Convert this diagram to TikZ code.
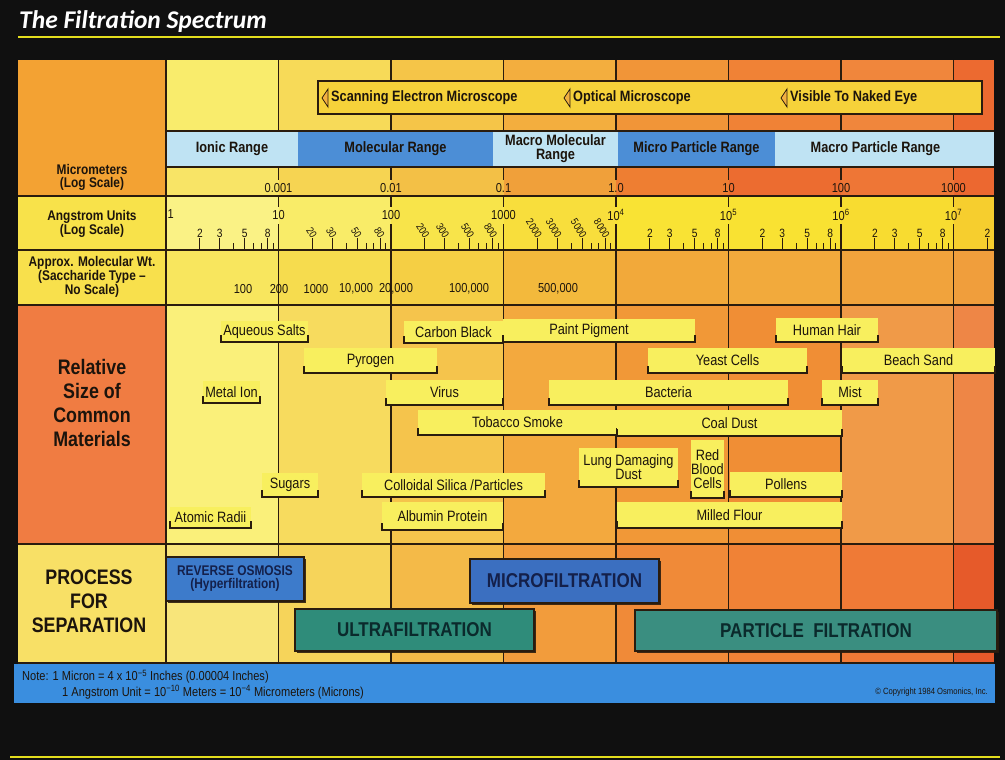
\documentclass[tikz,border=0pt]{standalone}
\usepackage{fontspec}
\setmainfont[FakeStretch=0.85]{Liberation Sans}
\newfontfamily\titlefont{Carlito}
\usetikzlibrary{shadows}

% general colours
\definecolor{chartblack}{HTML}{101010}
\definecolor{edge}{HTML}{2A1C0E}
\definecolor{ink}{HTML}{1C140C}
\definecolor{titlerule}{HTML}{E4DE1E}
\definecolor{boxyellow}{HTML}{F8EF5E}
\definecolor{barfill}{HTML}{F6D23A}
\definecolor{glyphfill}{HTML}{F2B040}
\definecolor{paleband}{HTML}{BFE3F3}
\definecolor{deepband}{HTML}{4C8ED6}
\definecolor{roband}{HTML}{3D7BCB}
\definecolor{mfband}{HTML}{3B6FC0}
\definecolor{ufband}{HTML}{2F8C7A}
\definecolor{pfband}{HTML}{3A8E80}
\definecolor{noteband}{HTML}{3A8EDF}
\definecolor{navytext}{HTML}{14204A}
\definecolor{tealtext}{HTML}{0B2A2C}
% label column
\definecolor{labA}{HTML}{F3A233}
\definecolor{labB}{HTML}{F8E24A}
\definecolor{labC}{HTML}{F8E04C}
\definecolor{labD}{HTML}{F07C42}
\definecolor{labE}{HTML}{F8E066}
% columns, one row at a time
\definecolor{top1}{HTML}{F9EC6C}\definecolor{top2}{HTML}{F7DA58}\definecolor{top3}{HTML}{F5C548}\definecolor{top4}{HTML}{F3AE3E}
\definecolor{top5}{HTML}{F19538}\definecolor{top6}{HTML}{F08236}\definecolor{top7}{HTML}{F0863C}\definecolor{top8}{HTML}{EC6A30}
\definecolor{um1}{HTML}{F8E466}\definecolor{um2}{HTML}{F6D452}\definecolor{um3}{HTML}{F3C046}\definecolor{um4}{HTML}{F0A03A}
\definecolor{um5}{HTML}{EE7E32}\definecolor{um6}{HTML}{EC6C30}\definecolor{um7}{HTML}{EE7636}\definecolor{um8}{HTML}{EC6830}
\definecolor{ang1}{HTML}{FAF285}\definecolor{ang2}{HTML}{F9EC68}\definecolor{ang3}{HTML}{F8E44A}\definecolor{ang4}{HTML}{F8DE3C}
\definecolor{ang5}{HTML}{F9E334}\definecolor{ang6}{HTML}{F9E232}\definecolor{ang7}{HTML}{F8DC30}\definecolor{ang8}{HTML}{F6CE2E}
\definecolor{mw1}{HTML}{F8E65E}\definecolor{mw2}{HTML}{F6DC4E}\definecolor{mw3}{HTML}{F5CF44}\definecolor{mw4}{HTML}{F3B93C}
\definecolor{mw5}{HTML}{F2A93A}\definecolor{mw6}{HTML}{F2AA3C}\definecolor{mw7}{HTML}{F1A33C}\definecolor{mw8}{HTML}{F09E3C}
\definecolor{mat1}{HTML}{FAF07A}\definecolor{mat2}{HTML}{F7DB5E}\definecolor{mat3}{HTML}{F5C44C}\definecolor{mat4}{HTML}{F3A93E}
\definecolor{mat5}{HTML}{F19837}\definecolor{mat6}{HTML}{F08E35}\definecolor{mat7}{HTML}{F09A48}\definecolor{mat8}{HTML}{EE8646}
\definecolor{sep1}{HTML}{F8E57A}\definecolor{sep2}{HTML}{F6D45A}\definecolor{sep3}{HTML}{F4BA48}\definecolor{sep4}{HTML}{F29C3C}
\definecolor{sep5}{HTML}{F08A38}\definecolor{sep6}{HTML}{F08236}\definecolor{sep7}{HTML}{EF7A36}\definecolor{sep8}{HTML}{E65A2A}

\tikzset{
  titletext/.style={inner sep=0pt, text=white, font=\titlefont\fontsize{25.5}{25}\selectfont\bfseries\itshape},
  titleline/.style={draw=titlerule, line width=2.5pt},
  gridline/.style={draw=edge, line width=1.4pt},
  decline/.style={draw=edge, line width=1.2pt},
  tickline/.style={draw=edge, line width=0.9pt},
  rangeband/.style={text=ink, font=\fontsize{15}{14}\selectfont\bfseries, align=center},
  scopebar/.style={fill=barfill, draw=edge, line width=1.4pt},
  scopetext/.style={inner sep=0pt, text=ink, font=\fontsize{15}{15}\selectfont\bfseries},
  scopeglyph/.style={draw=edge, fill=glyphfill, line width=0.8pt},
  rowhead/.style={inner sep=0pt, text=ink, align=center, font=\fontsize{14}{13}\selectfont\bfseries},
  bighead/.style={inner sep=0pt, text=ink, align=center, font=\fontsize{21}{24}\selectfont\bfseries},
  scalelbl/.style={inner sep=0.5pt, text=ink, font=\fontsize{12}{12}\selectfont},
  matbox/.style={fill=boxyellow, text=ink, align=center, font=\fontsize{15}{14}\selectfont},
  matline/.style={draw=edge, line width=1.8pt},
  procbox/.style={draw=edge, line width=1.5pt, align=center,
    drop shadow={shadow xshift=2pt, shadow yshift=-2pt, fill=edge, opacity=0.9}},
  notetext/.style={inner sep=0pt, text=ink, font=\fontsize{13}{13}\selectfont},
}

% a node that fills the box x1..x2, y1..y2
\newcommand{\spannode}[7][]{%
  \pgfmathsetmacro{\spx}{(#3+#4)/2}\pgfmathsetmacro{\spy}{(#5+#6)/2}%
  \pgfmathsetmacro{\spw}{#4-#3}\pgfmathsetmacro{\sph}{#6-#5}%
  \node[inner sep=0pt, minimum width=\spw pt, minimum height=\sph pt, #1] (#2) at (\spx,\spy) {#7};
}
% one yellow size box with its bracket underneath
\newcommand{\matl}[6]{%
  \spannode[matbox]{#1}{#2}{#3}{#4}{#5}{#6}
  \draw[matline] ([yshift=7pt]#1.south west) |- (#1.south) -| ([yshift=7pt]#1.south east);
}

\begin{document}
\begin{tikzpicture}[x=1pt, y=-1pt]
\useasboundingbox (0,0) rectangle (1005,760);
\fill[chartblack] (0,0) rectangle (1005,760);

% title
\node[titletext, anchor=west] (title) at (19,22) {The Filtration Spectrum};
\draw[titleline] (18,37) -- (1000,37);
\draw[titleline] (10,757) -- (1000,757);

% backgrounds
\fill[labA] (18,60) rectangle (166,196);
\fill[labB] (18,196) rectangle (166,250);
\fill[labC] (18,250) rectangle (166,305);
\fill[labD] (18,305) rectangle (166,544);
\fill[labE] (18,544) rectangle (166,663);
\foreach \r/\ya/\yb in {top/60/131,um/167/196,ang/196/250,mw/250/305,mat/305/544,sep/544/663}{
  \foreach \xa/\xb [count=\i] in {166/278.5,278.5/391,391/503.5,503.5/616,616/728.5,728.5/841,841/953.5,953.5/994}
    \fill[fill=\r\i] (\xa,\ya) rectangle (\xb,\yb);
}

% decade lines
\foreach \x in {278.5,391,503.5,616,728.5,841,953.5}{
  \draw[decline] (\x,60) -- (\x,131);
  \draw[decline] (\x,167) -- (\x,180);
  \draw[decline] (\x,196) -- (\x,207);
  \draw[decline] (\x,224) -- (\x,663);
}

% size ranges
\spannode[rangeband, fill=paleband]{ionic}{166}{298}{131}{167}{Ionic Range}
\spannode[rangeband, fill=deepband]{molecular}{298}{493}{131}{167}{Molecular Range}
\spannode[rangeband, fill=paleband]{macromol}{493}{618}{131}{167}{Macro Molecular\\Range}
\spannode[rangeband, fill=deepband]{microp}{618}{775}{131}{167}{Micro Particle Range}
\spannode[rangeband, fill=paleband]{macrop}{775}{994}{131}{167}{Macro Particle Range\hspace{18pt}}

% grid
\draw[gridline] (166,60) -- (166,663);
\draw[gridline] (166,131) -- (994,131);
\draw[gridline] (166,167) -- (994,167);
\foreach \y in {196,250,305,544,663}
  \draw[gridline] (18,\y) -- (994,\y);

% microscopes
\spannode[scopebar]{scopebar}{318}{982}{81}{114}{}
\node[scopetext, anchor=west] (sem) at (331,98) {Scanning Electron Microscope};
\node[scopetext, anchor=west] (optical) at (573,98) {Optical Microscope};
\node[scopetext, anchor=west] (naked) at (790,98) {Visible To Naked Eye};
\foreach \n in {sem,optical,naked}
  \draw[scopeglyph] ([xshift=-3pt]\n.west) ++(0,-9) -- ++(-6,9) -- ++(6,9) -- cycle;

% row headings
\node[rowhead] (umhead) at (92,177) {Micrometers\\(Log Scale)};
\node[rowhead] (anghead) at (92,224) {Angstrom Units\\(Log Scale)};
\node[rowhead] (mwhead) at (92,277) {Approx. Molecular Wt.\\(Saccharide Type –\\No Scale)};
\node[bighead] (mathead) at (92,403) {Relative\\Size of\\Common\\Materials};
\node[bighead] (sephead) at (89,601) {PROCESS\\FOR\\SEPARATION};

% micrometer scale
\foreach \x/\t [count=\i] in {278.5/0.001,391/0.01,503.5/0.1,616/1.0,728.5/10,841/100,953.5/1000}
  \node[scalelbl, font=\fontsize{13}{13}\selectfont] (um\i) at (\x,188) {\t};

% angstrom scale
\foreach \d in {0,...,6}{
  \foreach \m in {2,3,5,8}
    \draw[tickline] ({166+112.5*(\d+log10(\m))},250) -- ++(0,-12);
  \foreach \m in {4,6,7,9}
    \draw[tickline] ({166+112.5*(\d+log10(\m))},250) -- ++(0,-7);
}
\draw[tickline] ({166+112.5*(7+log10(2))},250) -- ++(0,-12);
\node[scalelbl, font=\fontsize{13}{13}\selectfont, anchor=west] (ang0) at (167,214) {1};
\foreach \x/\t [count=\i] in {278.5/10,391/100,503.5/1000,616/10\textsuperscript{4},728.5/10\textsuperscript{5},841/10\textsuperscript{6},953.5/10\textsuperscript{7}}
  \node[scalelbl, font=\fontsize{13}{13}\selectfont] (ang\i) at (\x,215) {\t};
\foreach \d in {0,4,5,6}{
  \foreach \m in {2,3,5,8}
    \node[scalelbl, anchor=south] (up\d\m) at ({166+112.5*(\d+log10(\m))},238) {\m};
}
\node[scalelbl, anchor=south] (up72) at ({166+112.5*(7+log10(2))},238) {2};
\foreach \d/\z in {1/0,2/00,3/000}{
  \foreach \m in {2,3,5,8}
    \node[scalelbl, inner sep=0pt, font=\fontsize{10.5}{10.5}\selectfont, rotate=-58, anchor=east] (rt\d\m) at ({166+112.5*(\d+log10(\m))+2},237) {\m\z};
}

% molecular weights
\foreach \x/\t [count=\i] in {243/100,279/200,316/1000,356/{10,000},396/{20,000},469/{100,000},558/{500,000}}
  \node[scalelbl, font=\fontsize{13}{13}\selectfont] (mw\i) at (\x,289) {\t};

% common materials
\matl{aqsalts}{221}{308}{321}{342}{Aqueous Salts}
\matl{carbon}{404}{503}{321}{343}{Carbon Black}
\matl{paint}{503}{695}{319}{342}{Paint Pigment\hspace{20pt}}
\matl{hair}{776}{878}{318}{342}{Human Hair}
\matl{pyrogen}{304}{437}{348}{373}{Pyrogen}
\matl{yeast}{648}{807}{348}{373}{Yeast Cells}
\matl{sand}{842}{995}{348}{373}{Beach Sand}
\matl{metal}{203}{260}{381}{403}{Metal Ion}
\matl{virus}{386}{503}{380}{405}{Virus}
\matl{bacteria}{549}{788}{380}{405}{Bacteria}
\matl{mist}{822}{878}{380}{405}{Mist}
\matl{tobacco}{418}{617}{410}{435}{Tobacco Smoke}
\matl{coal}{617}{842}{410}{436}{Coal Dust}
\matl{lung}{579}{678}{448}{487}{Lung Damaging\\Dust}
\matl{blood}{692}{723}{440}{498}{Red\\Blood\\Cells}
\matl{pollens}{730}{842}{472}{497}{Pollens}
\matl{sugars}{262}{318}{473}{497}{Sugars}
\matl{silica}{362}{545}{473}{497}{Colloidal Silica /Particles}
\matl{atomic}{170}{251}{507}{528}{Atomic Radii}
\matl{albumin}{382}{503}{502}{530}{Albumin Protein}
\matl{flour}{617}{842}{502}{528}{Milled Flour}

% separation processes
\spannode[procbox, fill=roband, text=navytext, font=\fontsize{14}{13}\selectfont\bfseries]{revosm}{166}{304}{557}{601}{REVERSE OSMOSIS\\(Hyperfiltration)}
\spannode[procbox, fill=mfband, text=navytext, font=\fontsize{20}{20}\selectfont\bfseries]{microfilt}{470}{659}{559}{603}{MICROFILTRATION}
\spannode[procbox, fill=ufband, text=tealtext, font=\fontsize{20}{20}\selectfont\bfseries]{ultrafilt}{295}{534}{609}{651}{ULTRAFILTRATION}
\spannode[procbox, fill=pfband, text=tealtext, font=\fontsize{20}{20}\selectfont\bfseries]{partfilt}{635}{997}{610}{651}{PARTICLE\ \ FILTRATION}

% note
\spannode[fill=noteband]{note}{14}{995}{664}{703}{}
\node[notetext, anchor=west] (note1) at (22,677) {Note: 1 Micron = 4 x 10\textsuperscript{−5} Inches (0.00004 Inches)};
\node[notetext, anchor=west] (note2) at (62,692) {1 Angstrom Unit = 10\textsuperscript{−10} Meters = 10\textsuperscript{−4} Micrometers (Microns)};
\node[notetext, font=\fontsize{9}{9}\selectfont, anchor=east] (copyright) at (988,692) {\textcopyright\ Copyright 1984 Osmonics, Inc.};
\end{tikzpicture}
\end{document}
